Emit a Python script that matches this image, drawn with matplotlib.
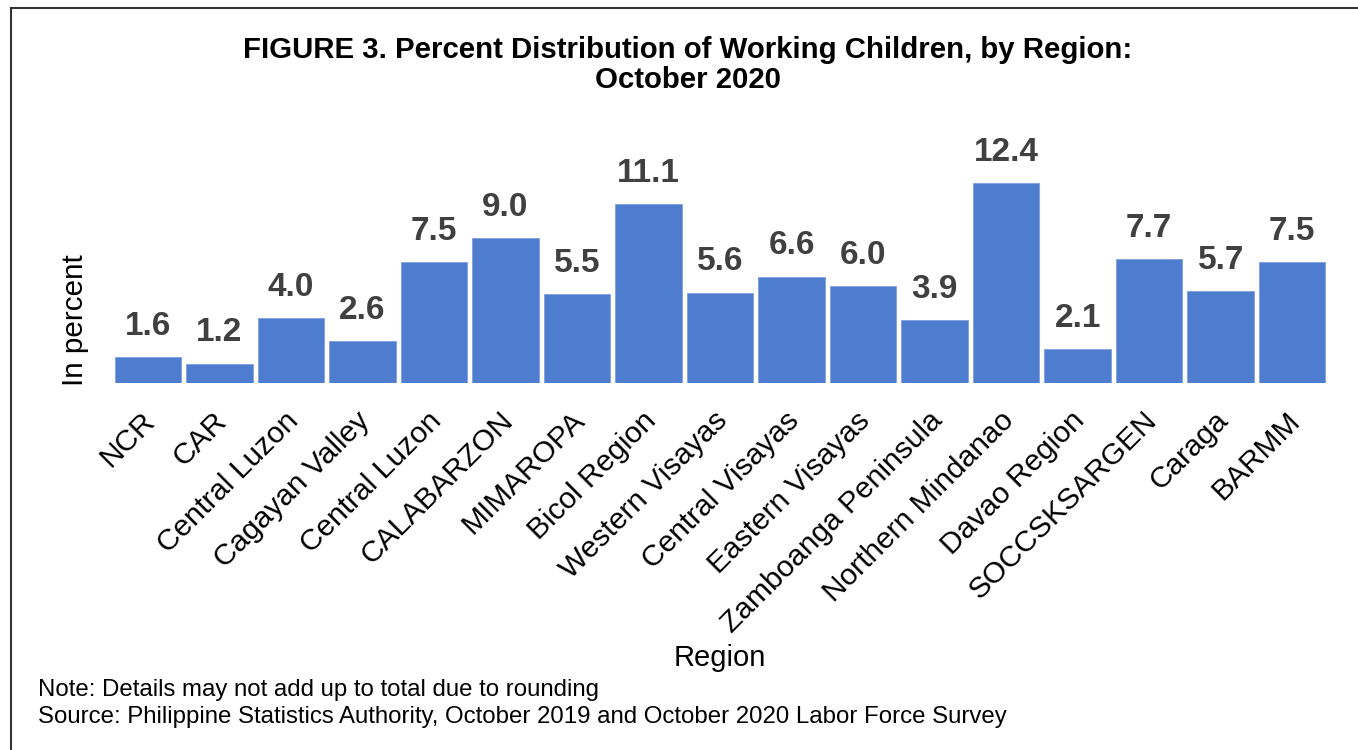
import numpy as np
import matplotlib
matplotlib.use('Agg')
import matplotlib.pyplot as plt
from matplotlib.lines import Line2D
from matplotlib.transforms import ScaledTranslation

plt.rcParams.update({
    'font.family': ['Liberation Sans', 'DejaVu Sans'],
})

# data
regions = ['NCR', 'CAR', 'Central Luzon', 'Cagayan Valley', 'Central Luzon',
           'CALABARZON', 'MIMAROPA', 'Bicol Region', 'Western Visayas',
           'Central Visayas', 'Eastern Visayas', 'Zamboanga Peninsula',
           'Northern Mindanao', 'Davao Region', 'SOCCSKSARGEN', 'Caraga', 'BARMM']
percent = [1.6, 1.2, 4.0, 2.6, 7.5, 9.0, 5.5, 11.1, 5.6, 6.6, 6.0, 3.9,
           12.4, 2.1, 7.7, 5.7, 7.5]

BAR_COL = '#4E7DCF'
LBL_COL = '#404040'

fig = plt.figure(figsize=(13.58, 7.5), dpi=100)
ax = fig.add_axes([112 / 1358, 1 - 383 / 750, 1216 / 1358, 14 * 16.13 / 750])

x = np.arange(len(regions))
bars = ax.bar(x, percent, width=0.93, color=BAR_COL, edgecolor='#7FA0DD', lw=0.6)
for xi, v in zip(x, percent):
    ax.annotate(f'{v:.1f}', (xi, v), xytext=(0, 16), textcoords='offset points',
                ha='center', va='baseline', fontsize=24, fontweight='bold',
                color=LBL_COL)

ax.set_xlim(-0.5, len(regions) - 0.5)
ax.set_ylim(0, 14)
ax.set_yticks([])
ax.set_xticks(x)
ax.set_xticklabels(regions, rotation=45, ha='right', va='center',
                   rotation_mode='anchor', fontsize=21.5)
ax.tick_params(axis='x', length=0, pad=24)
offset = ScaledTranslation(0.03, 0, fig.dpi_scale_trans)
for lab in ax.get_xticklabels():
    lab.set_transform(lab.get_transform() + offset)
for s in ax.spines.values():
    s.set_visible(False)

fig.text(688 / 1358, 1 - 50 / 750,
         'FIGURE 3. Percent Distribution of Working Children, by Region:',
         ha='center', va='center', fontsize=21.2, fontweight='bold')
fig.text(688 / 1358, 1 - 80 / 750, 'October 2020',
         ha='center', va='center', fontsize=21.2, fontweight='bold')

fig.text(720 / 1358, 1 - 658 / 750, 'Region', ha='center', va='center', fontsize=21)
fig.text(75 / 1358, 1 - 320 / 750, 'In percent', ha='center', va='center',
         rotation=90, fontsize=21.3)

fig.text(38 / 1358, 1 - 690 / 750, 'Note: Details may not add up to total due to rounding',
         ha='left', va='center', fontsize=17.3)
fig.text(38 / 1358, 1 - 717 / 750,
         'Source: Philippine Statistics Authority, October 2019 and October 2020 Labor Force Survey',
         ha='left', va='center', fontsize=17.3)

# frame lines (left and top)
fig.add_artist(Line2D([11 / 1358, 11 / 1358], [0, 1 - 8 / 750],
                      transform=fig.transFigure, color='#333333', lw=1.5))
fig.add_artist(Line2D([11 / 1358, 1], [1 - 8 / 750, 1 - 8 / 750],
                      transform=fig.transFigure, color='#333333', lw=1.5))

fig.savefig('out.png', dpi=100)
